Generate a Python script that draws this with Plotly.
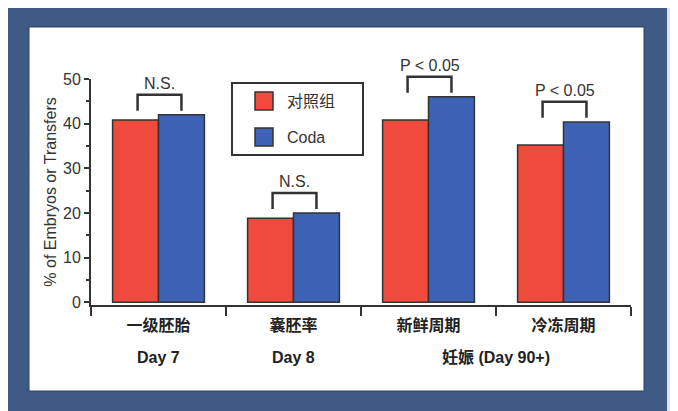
import plotly.graph_objects as go

# data
categories = ["一级胚胎", "囊胚率", "新鲜周期", "冷冻周期"]
series_names = ["对照组", "Coda"]
control_vals = [40.8, 18.8, 40.8, 35.2]
coda_vals = [42.0, 20.0, 46.0, 40.4]
sig_labels = ["N.S.", "N.S.", "P < 0.05", "P < 0.05"]
stage_labels = ["Day 7", "Day 8", "妊娠 (Day 90+)"]
stage_groups = [[0], [1], [2, 3]]   # which categories each stage label sits under

bar_colors = ["#ef4a3b", "#3e62b6"]
edge = "#333333"
latin = "Arial, Liberation Sans, sans-serif"
cjk = "Noto Sans CJK SC, sans-serif"

# the page body adds an 8px margin, so layout is measured in page pixels minus OFF
OFF = 8
W, H = 678, 411
L, T = 91 - OFF, 79 - OFF
R = W - (631 - OFF)
B = H - (305 - OFF)
PW, PH = W - L - R, H - T - B
Y_MIN, Y_MAX = -0.6, 50


def px_x(px):
    return (px - OFF - L) / PW


def px_y(py):
    return (H - B - (py - OFF)) / PH


def yp(v):
    return (v - Y_MIN) / (Y_MAX - Y_MIN)


fig = go.Figure()
xs = list(range(len(categories)))
for name, vals, color in zip(series_names, [control_vals, coda_vals], bar_colors):
    fig.add_trace(go.Bar(x=xs, y=vals, name=name, showlegend=False,
                         marker=dict(color=color, line=dict(color=edge, width=1.5))))

shapes = []
# photo frame around the chart
shapes.append(dict(type="rect", xref="paper", yref="paper", layer="below",
                   x0=px_x(8), x1=px_x(667), y0=px_y(430), y1=px_y(4),
                   fillcolor="#3f5a84", line=dict(width=0)))
shapes.append(dict(type="rect", xref="paper", yref="paper", layer="below",
                   x0=px_x(29), x1=px_x(644), y0=px_y(391), y1=px_y(27),
                   fillcolor="white", line=dict(color="#2c4166", width=1)))

annotations = []
# significance brackets
for i, (a, b, lab) in enumerate(zip(control_vals, coda_vals, sig_labels)):
    top = max(a, b) + 4.5
    foot = max(a, b) + 0.9
    x0, x1 = i - 0.155, i + 0.17
    shapes.append(dict(type="path", xref="x", yref="paper",
                       path=f"M {x0},{yp(foot)} L {x0},{yp(top)} L {x1},{yp(top)} L {x1},{yp(foot)}",
                       line=dict(color=edge, width=2.5)))
    annotations.append(dict(x=(x0 + x1) / 2, y=yp(top), xref="x", yref="paper",
                            text=lab, showarrow=False, yanchor="bottom", yshift=1,
                            font=dict(family=latin, size=16, color="#333")))

# stage labels under the category names
for lab, grp in zip(stage_labels, stage_groups):
    annotations.append(dict(x=sum(grp) / len(grp), y=px_y(357), xref="x", yref="paper",
                            text=lab, showarrow=False, yanchor="middle",
                            font=dict(family=latin + ", " + cjk, size=16, color="#222", weight="bold")))

# hand drawn legend box
shapes.append(dict(type="rect", xref="paper", yref="paper",
                   x0=px_x(232), x1=px_x(363), y0=px_y(155), y1=px_y(83),
                   fillcolor="white", line=dict(color=edge, width=2)))
for k, (name, color) in enumerate(zip(series_names, bar_colors)):
    cy = 101 + 36 * k
    shapes.append(dict(type="rect", xref="paper", yref="paper",
                       x0=px_x(255), x1=px_x(273), y0=px_y(cy + 9), y1=px_y(cy - 9),
                       fillcolor=color, line=dict(color=edge, width=1.5)))
    annotations.append(dict(x=px_x(285), y=px_y(cy), xref="paper", yref="paper",
                            text=name, showarrow=False, xanchor="left", yanchor="middle",
                            font=dict(family=latin + ", " + cjk, size=16, color="#333")))

fig.update_layout(
    width=W, height=H,
    margin=dict(l=L, r=R, t=T, b=B, pad=0),
    paper_bgcolor="#dfe4ef",
    plot_bgcolor="rgba(0,0,0,0)",
    barmode="group", bargap=0.32, bargroupgap=0,
    shapes=shapes, annotations=annotations,
    showlegend=False,
)
fig.update_xaxes(
    range=[-0.5, 3.5], tickmode="array", tickvals=xs, ticktext=categories,
    showline=True, linecolor=edge, linewidth=2, showgrid=False, zeroline=False,
    ticks="outside", ticklen=0, ticklabelstandoff=5,
    tickfont=dict(family=cjk, size=16, color="#222", weight="bold"),
    minor=dict(tickmode="linear", tick0=0.5, dtick=1, ticks="outside",
               ticklen=9, tickwidth=2, tickcolor=edge),
)
fig.update_yaxes(
    range=[Y_MIN, Y_MAX], tickmode="array", tickvals=[0, 10, 20, 30, 40, 50],
    showline=True, linecolor=edge, linewidth=2, showgrid=False, zeroline=False,
    ticks="outside", ticklen=5, tickwidth=2, tickcolor=edge,
    tickfont=dict(family=latin, size=16, color="#333"),
    minor=dict(tickmode="linear", tick0=5, dtick=10, ticks="outside",
               ticklen=3, tickwidth=1.5, tickcolor=edge),
    title=dict(text="% of Embryos or Transfers", standoff=2,
               font=dict(family=latin, size=16, color="#333")),
)

fig.write_html("out.html")
